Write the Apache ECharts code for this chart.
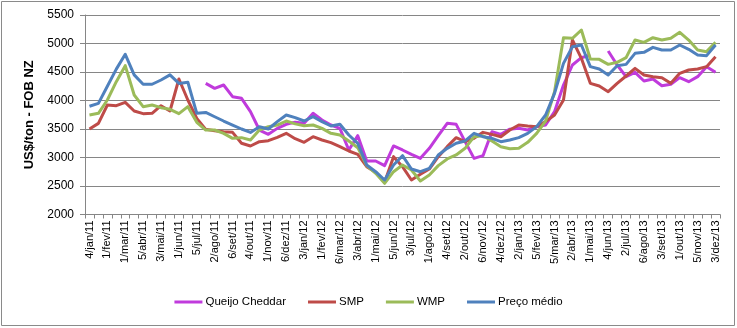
<!DOCTYPE html>
<html><head><meta charset="utf-8">
<script src="https://cdn.jsdelivr.net/npm/echarts@6.0.0/dist/echarts.min.js"></script>
<style>html,body{margin:0;padding:0;background:#fff}#c{width:737px;height:328px}</style>
</head><body><div id="c"></div><script>
const categories = [
 '4/jan/11','18/jan/11','1/fev/11','15/fev/11','1/mar/11','15/mar/11','5/abr/11','19/abr/11','3/mai/11','17/mai/11','1/jun/11','15/jun/11','5/jul/11','19/jul/11','2/ago/11','16/ago/11','6/set/11','20/set/11','4/out/11','18/out/11','1/nov/11','15/nov/11','6/dez/11','13/dez/11',
 '3/jan/12','17/jan/12','1/fev/12','15/fev/12','6/mar/12','20/mar/12','3/abr/12','17/abr/12','1/mai/12','15/mai/12','5/jun/12','19/jun/12','3/jul/12','17/jul/12','1/ago/12','15/ago/12','4/set/12','18/set/12','2/out/12','16/out/12','6/nov/12','20/nov/12','4/dez/12','18/dez/12',
 '2/jan/13','15/jan/13','5/fev/13','19/fev/13','5/mar/13','19/mar/13','2/abr/13','16/abr/13','1/mai/13','15/mai/13','4/jun/13','18/jun/13','2/jul/13','16/jul/13','6/ago/13','20/ago/13','3/set/13','17/set/13','1/out/13','15/out/13','5/nov/13','19/nov/13','3/dez/13'
];
const queijoCheddar = [
 null,null,null,null,null,null,null,null,null,null,null,null,null,
 4301,4213,4272,4067,4038,3804,3482,3406,3511,3582,3620,
 3599,3775,3658,3570,3512,3132,3383,2939,2939,2857,3202,3132,3056,2985,3161,3383,3599,3582,3278,2985,3032,3453,3406,3497,
 3512,3482,3541,3570,3804,4272,4623,4751,4798,null,4868,4623,4418,4494,4342,4377,4260,4284,4401,4330,4418,4594,4494
];
const smp = [
 3500,3599,3921,3909,3968,3816,3769,3775,3909,3816,4377,4009,3687,3494,3471,3453,3441,3249,3202,3278,3295,3354,3424,3330,
 3266,3365,3307,3260,3190,3114,3056,2839,2740,2564,3015,2839,2605,2705,2798,3015,3190,3348,3278,3336,3441,3406,3365,3482,
 3570,3553,3541,3629,3746,4009,5061,4740,4301,4254,4155,4301,4430,4564,4447,4418,4401,4301,4477,4535,4553,4594,4769
];
const wmp = [
 3746,3775,4009,4330,4611,4096,3892,3921,3874,3845,3769,3892,3617,3482,3482,3424,3336,3348,3307,3482,3541,3570,3640,3590,
 3558,3570,3511,3424,3395,3289,3172,2857,2722,2547,2751,2868,2781,2588,2693,2857,2974,3044,3161,3365,3383,3289,3190,3155,
 3161,3266,3424,3640,4155,5102,5091,5237,4728,4722,4634,4670,4751,5061,5020,5102,5061,5091,5196,5061,4886,4857,5020
];
const precoMedio = [
 3900,3950,4250,4550,4810,4450,4285,4285,4360,4450,4300,4320,3775,3790,3715,3640,3570,3500,3440,3540,3500,3630,3745,3700,
 3640,3716,3630,3553,3582,3395,3249,2868,2751,2605,2868,3032,2798,2751,2810,3044,3161,3249,3290,3424,3365,3336,3278,3307,
 3348,3424,3541,3746,4126,4652,4944,4974,4594,4553,4447,4611,4634,4827,4845,4933,4886,4886,4974,4898,4798,4787,4974
];
const yTicks = {min: 2000, max: 5500, interval: 500};
const seriesNames = ['Queijo Cheddar','SMP','WMP','Preço médio'];
const seriesColors = ['#C03BDC','#BE4B48','#9BBB59','#4F81BD'];
const seriesData = [queijoCheddar, smp, wmp, precoMedio];

const FONT = 'Liberation Sans';
const chart = echarts.init(document.getElementById('c'), null, {renderer:'canvas'});
chart.setOption({
  animation: false,
  backgroundColor: '#fff',
  textStyle: {fontFamily: FONT},
  graphic: [{type:'rect', shape:{x:1.5,y:1.5,width:733,height:324}, style:{fill:null, stroke:'#8a8a8a', lineWidth:1}, silent:true}],
  grid: {left: 85, right: 17, top: 15, bottom: 113.5},
  legend: {
    left: 'center', top: 291, itemWidth: 28, itemHeight: 3, itemGap: 22, icon: 'rect',
    textStyle: {fontFamily: FONT, fontSize: 11.5, color: '#000', padding:[0,0,0,-2]},
    data: seriesNames
  },
  xAxis: {
    type: 'category', data: categories, boundaryGap: true,
    axisLine: {lineStyle: {color: '#868686', width: 1}},
    axisTick: {show: true, interval: 0, length: 4, lineStyle: {color: '#868686'}},
    axisLabel: {interval: 1, rotate: 90, fontSize: 11, margin: 6, color: '#000', fontFamily: FONT}
  },
  yAxis: {
    type: 'value', min: yTicks.min, max: yTicks.max, interval: yTicks.interval,
    name: 'US$/ton - FOB NZ', nameLocation: 'middle', nameGap: 48,
    nameTextStyle: {fontWeight: 'bold', fontSize: 13, color: '#000', fontFamily: FONT},
    axisLine: {show: true, lineStyle: {color: '#868686'}},
    axisTick: {show: true, length: 5, lineStyle: {color: '#868686'}},
    splitLine: {lineStyle: {color: '#868686', width: 1}},
    axisLabel: {fontSize: 12, margin: 11, color: '#000', fontFamily: FONT, formatter: v => String(v)}
  },
  series: seriesNames.map((n, k) => ({
    name: n, type: 'line', data: seriesData[k], symbol: 'none', connectNulls: false,
    lineStyle: {width: 3, color: seriesColors[k], join: 'round'},
    itemStyle: {color: seriesColors[k]}
  }))
});
</script></body></html>
